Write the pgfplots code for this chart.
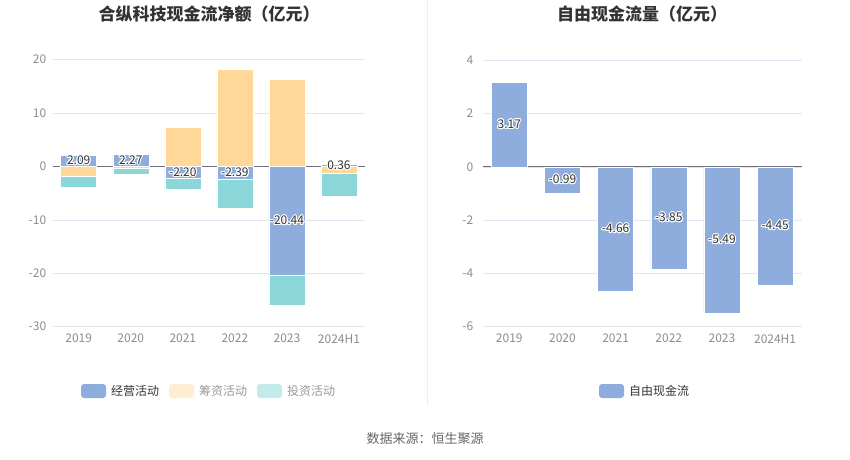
\documentclass[border=0pt]{standalone}
\usepackage{pgfplots}
\pgfplotsset{compat=1.18}
\usepackage{pgfplotstable}
\usepackage{fontspec}
\setmainfont{Noto Sans CJK SC}
\usepackage{contour}
\contourlength{1pt}
\definecolor{cop}{HTML}{8FADDC}
\definecolor{cfin}{HTML}{FFD899}
\definecolor{cinv}{HTML}{8AD6D8}
\definecolor{lfin}{HTML}{FFEDD2}
\definecolor{linv}{HTML}{C4EBEC}
\definecolor{gridc}{HTML}{E0E6F1}
\definecolor{zeroc}{HTML}{6E7079}
\definecolor{tickc}{HTML}{8C8C8C}
\definecolor{titlec}{HTML}{333333}
\definecolor{labc}{HTML}{333333}
\definecolor{legc}{HTML}{333333}
\definecolor{legoff}{HTML}{999999}
\definecolor{sepc}{HTML}{EEEEEE}
\definecolor{srcc}{HTML}{666666}

\pgfplotstableread{
x op fin inv
0 2.09 -1.75 -2.10
1 2.27 -0.30 -1.15
2 -2.20 7.36 -2.10
3 -2.39 18.20 -5.42
4 -20.44 16.35 -5.56
5 0.36 -1.31 -4.20
}\leftdata
\pgfplotstableread{
x fcf
0 3.17
1 -0.99
2 -4.66
3 -3.85
4 -5.49
5 -4.45
}\rightdata

\pgfplotsset{
  common/.style={
    scale only axis, anchor=south west,
    xmin=-0.5, xmax=5.5,
    xtick={0,...,5}, xticklabels={2019,2020,2021,2022,2023,2024H1},
    axis line style={draw=none}, major tick length=0pt,
    ymajorgrids, grid style={color=gridc, line width=0.7pt},
    tick label style={font=\fontsize{12}{14}\selectfont, text=tickc},
    /pgf/number format/assume math mode=true,
    xticklabel style={yshift=-4pt},
    extra y ticks={0}, extra y tick labels={},
    extra y tick style={grid style={color=zeroc, line width=0.9pt}},
    clip=false,
  },
  lab/.style={draw=none, mark=none,
    nodes near coords={\contour{white}{\pgfmathprintnumber[fixed,fixed zerofill,precision=2,assume math mode=true]{\pgfplotspointmeta}}},
    every node near coord/.append style={anchor=center, font=\fontsize{12}{14}\selectfont, text=labc},
    point meta=explicit},
  barst/.style={draw=white, line width=0.5pt},
}

\begin{document}
\begin{tikzpicture}[x=1pt,y=1pt]
\path[use as bounding box] (0,0) rectangle (850,459);
% left chart
\begin{axis}[common, at={(52.7pt,132.3pt)}, width=312.3pt, height=267pt,
  ymin=-30, ymax=20, ytick={-30,-20,...,20},
  ybar stacked, stack negative=separate, bar width=36pt,
  yticklabel style={xshift=-3pt}]
\addplot[fill=cop, barst] table[x=x,y=op]{\leftdata};
\addplot[fill=cfin, barst] table[x=x,y=fin]{\leftdata};
\addplot[fill=cinv, barst] table[x=x,y=inv]{\leftdata};
\end{axis}
\begin{axis}[scale only axis, anchor=south west, at={(52.7pt,132.3pt)}, width=312.3pt, height=267pt,
  ymin=-30, ymax=20, xmin=-0.5, xmax=5.5, hide axis, clip=false]
\addplot[lab] table[x=x, y expr=\thisrow{op}/2, meta=op]{\leftdata};
\end{axis}
% right chart
\begin{axis}[common, at={(482.7pt,132.3pt)}, width=319pt, height=266.4pt,
  ymin=-6, ymax=4, ytick={-6,-4,...,4},
  yticklabel style={xshift=-6pt}]
\addplot[ybar, bar width=36pt, bar shift=0pt, fill=cop, barst] table[x=x,y=fcf]{\rightdata};
\addplot[lab] table[x=x, y expr=\thisrow{fcf}/2, meta=fcf]{\rightdata};
\end{axis}
% titles
\node[font=\bfseries\fontsize{17}{20}\selectfont, text=titlec] at (209,445) {合纵科技现金流净额（亿元）};
\node[font=\bfseries\fontsize{17}{20}\selectfont, text=titlec] at (642,445) {自由现金流量（亿元）};
% separator
\draw[sepc, line width=0.8pt] (427,459) -- (427,54);
% legends
\fill[cop, rounded corners=3pt] (81,61) rectangle (106,75);
\node[anchor=west, inner sep=0pt, font=\fontsize{12}{14}\selectfont, text=legc] at (111,68) {经营活动};
\fill[lfin, rounded corners=3pt] (169,61) rectangle (194,75);
\node[anchor=west, inner sep=0pt, font=\fontsize{12}{14}\selectfont, text=legoff] at (199,68) {筹资活动};
\fill[linv, rounded corners=3pt] (257,61) rectangle (282,75);
\node[anchor=west, inner sep=0pt, font=\fontsize{12}{14}\selectfont, text=legoff] at (287,68) {投资活动};
\fill[cop, rounded corners=3pt] (599,61) rectangle (624,75);
\node[anchor=west, inner sep=0pt, font=\fontsize{12}{14}\selectfont, text=legc] at (629,68) {自由现金流};
% source
\node[font=\fontsize{13}{15}\selectfont, text=srcc] at (425,20) {数据来源：恒生聚源};
\end{tikzpicture}
\end{document}
